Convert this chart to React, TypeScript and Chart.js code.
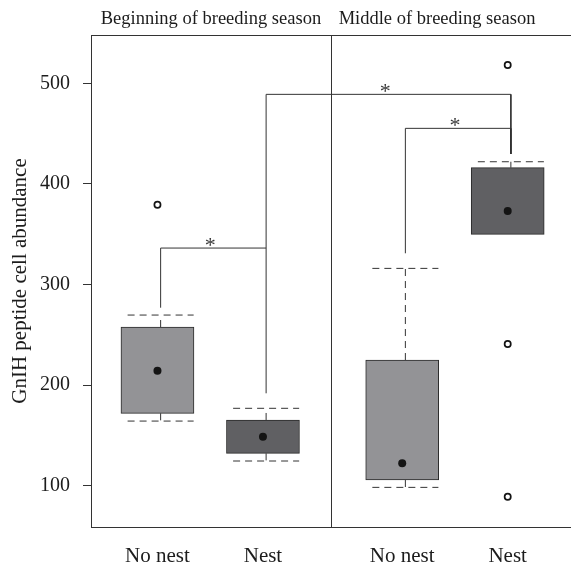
import React, { useEffect, useRef } from "react";
import { Chart, registerables } from "chart.js";

Chart.register(...registerables);

// ---- data ----
const panelTitles = ["Beginning of breeding season", "Middle of breeding season"];
const categories = ["No nest", "Nest", "No nest", "Nest"];
const boxAt = [1, 2, 3.32, 4.32];
const lowerWhisker = [164.2, 124.5, 98.3, 349.8];
const lowerQuartile = [171.9, 132.1, 105.6, 349.8];
const medians = [214.2, 148.6, 122.2, 373.0];
const upperQuartile = [257.7, 165.3, 224.9, 416.1];
const upperWhisker = [269.6, 176.9, 316.0, 422.0];
const outliers = [[379.3], [], [], [518.2, 240.8, 89.0]];
const yTicks = [100, 200, 300, 400, 500];
const bracketFrom = [0, 1, 2];
const bracketTo = [1, 3, 3];
const bracketTop = [336.2, 489.0, 455.2];
const bracketFromFoot = [276.9, 191.8, 331.0];
const bracketToFoot = [336.2, 429.7, 429.7];
const bracketMarks = ["*", "*", "*"];

// ---- layout / style ----
const FONT = '"Liberation Serif", "DejaVu Serif", serif';
const X_MIN = 0.37;
const X_MAX = 4.92;
const Y_MIN = 58.9;
const Y_MAX = 548;
const PANEL_BREAK = 2.645;
const PANEL_TITLE_AT = [1.507, 3.65];
const WHISKER_SHIFT = 0.03;
const CAP_HALF = 0.313;
const LINE = "#333333";
const TEXT = "#1c1c1c";
const boxFill = (i: number) => (i % 2 === 0 ? "#939396" : "#606063");

const gap = (x: number) => ({ x, y: null as any });

function buildWhiskers() {
  const pts: any[] = [];
  boxAt.forEach((c, i) => {
    const wx = c + WHISKER_SHIFT;
    if (upperWhisker[i] > upperQuartile[i])
      pts.push({ x: wx, y: upperQuartile[i] }, { x: wx, y: upperWhisker[i] }, gap(wx));
    if (lowerWhisker[i] < lowerQuartile[i])
      pts.push({ x: wx, y: lowerQuartile[i] }, { x: wx, y: lowerWhisker[i] }, gap(wx));
  });
  return pts;
}

function buildCaps() {
  const pts: any[] = [];
  boxAt.forEach((c, i) => {
    const wx = c + WHISKER_SHIFT;
    if (upperWhisker[i] > upperQuartile[i])
      pts.push({ x: wx - CAP_HALF, y: upperWhisker[i] }, { x: wx + CAP_HALF, y: upperWhisker[i] }, gap(wx));
    if (lowerWhisker[i] < lowerQuartile[i])
      pts.push({ x: wx - CAP_HALF, y: lowerWhisker[i] }, { x: wx + CAP_HALF, y: lowerWhisker[i] }, gap(wx));
  });
  return pts;
}

function buildBrackets() {
  const pts: any[] = [];
  bracketFrom.forEach((f, k) => {
    const xl = boxAt[f] + WHISKER_SHIFT;
    const xr = boxAt[bracketTo[k]] + WHISKER_SHIFT;
    pts.push(
      { x: xl, y: bracketFromFoot[k] },
      { x: xl, y: bracketTop[k] },
      { x: xr, y: bracketTop[k] },
      { x: xr, y: bracketToFoot[k] },
      gap(xr)
    );
  });
  return pts;
}

const frame = {
  id: "frame",
  beforeDatasetsDraw(chart: any) {
    const { ctx, chartArea: a, scales } = chart;
    const x = scales.x;
    ctx.save();
    ctx.strokeStyle = LINE;
    ctx.lineWidth = 1;
    ctx.beginPath();
    ctx.moveTo(a.left, Math.round(a.top) + 0.5);
    ctx.lineTo(chart.width, Math.round(a.top) + 0.5);
    ctx.moveTo(a.left, Math.round(a.bottom) + 0.5);
    ctx.lineTo(chart.width, Math.round(a.bottom) + 0.5);
    const dx = Math.round(x.getPixelForValue(PANEL_BREAK)) + 0.5;
    ctx.moveTo(dx, a.top);
    ctx.lineTo(dx, a.bottom);
    ctx.stroke();
    ctx.restore();
  },
  afterDatasetsDraw(chart: any) {
    const { ctx, chartArea: a, scales } = chart;
    const x = scales.x;
    const y = scales.y;
    ctx.save();
    ctx.fillStyle = "#3a3a3a";
    ctx.textAlign = "center";
    ctx.textBaseline = "alphabetic";
    ctx.font = `22px ${FONT}`;
    bracketFrom.forEach((f, k) => {
      const mx = x.getPixelForValue((boxAt[f] + boxAt[bracketTo[k]]) / 2);
      const my = y.getPixelForValue(bracketTop[k]);
      ctx.fillText(bracketMarks[k], mx, my + 4);
    });
    ctx.fillStyle = TEXT;
    ctx.font = `18.5px ${FONT}`;
    panelTitles.forEach((t, k) => {
      ctx.fillText(t, x.getPixelForValue(PANEL_TITLE_AT[k]), a.top - 11);
    });
    ctx.restore();
  },
};

export default function App() {
  const ref = useRef<HTMLCanvasElement | null>(null);

  useEffect(() => {
    document.body.style.margin = "0";
    if (!ref.current) return;
    const chart = new Chart(ref.current, {
      type: "bar",
      data: {
        datasets: [
          {
            type: "scatter",
            label: "median",
            data: boxAt.map((c, i) => ({ x: c, y: medians[i] })),
            pointRadius: 4,
            pointBackgroundColor: "#141414",
            pointBorderWidth: 0,
            order: 0,
          } as any,
          {
            type: "scatter",
            label: "outliers",
            data: boxAt.flatMap((c, i) => outliers[i].map((v) => ({ x: c, y: v }))),
            pointRadius: 3.1,
            pointBackgroundColor: "#ffffff",
            pointBorderColor: "#141414",
            pointBorderWidth: 1.7,
            order: 0,
          } as any,
          {
            type: "bar",
            label: "box",
            data: boxAt.map((c, i) => ({ x: c, y: [lowerQuartile[i], upperQuartile[i]] })),
            backgroundColor: boxAt.map((_, i) => boxFill(i)),
            borderColor: "#2a2a2a",
            borderWidth: 1,
            borderSkipped: false,
            barThickness: 73,
            grouped: false,
            order: 1,
          } as any,
          {
            type: "line",
            label: "whiskers",
            data: buildWhiskers(),
            borderColor: LINE,
            borderWidth: 1,
            borderDash: [7, 5],
            pointRadius: 0,
            spanGaps: false,
            tension: 0,
            order: 2,
          } as any,
          {
            type: "line",
            label: "caps",
            data: buildCaps(),
            borderColor: LINE,
            borderWidth: 1,
            borderDash: [7, 5],
            pointRadius: 0,
            spanGaps: false,
            tension: 0,
            order: 2,
          } as any,
          {
            type: "line",
            label: "brackets",
            data: buildBrackets(),
            borderColor: LINE,
            borderWidth: 1,
            pointRadius: 0,
            spanGaps: false,
            tension: 0,
            order: 3,
          } as any,
        ],
      },
      options: {
        responsive: false,
        animation: false,
        events: [],
        layout: { autoPadding: false, padding: { top: 35, left: 0, right: 0, bottom: 0 } },
        plugins: {
          legend: { display: false },
          tooltip: { enabled: false },
          title: { display: false },
        },
        scales: {
          x: {
            type: "linear",
            min: X_MIN,
            max: X_MAX,
            offset: false,
            afterBuildTicks: (s: any) => {
              s.ticks = boxAt.map((v) => ({ value: v }));
            },
            afterFit: (s: any) => {
              s.height = 37;
              s.paddingLeft = 0;
              s.paddingRight = 0;
            },
            grid: { display: false, drawTicks: false },
            border: { display: false },
            ticks: {
              font: { family: FONT, size: 21 },
              color: TEXT,
              padding: 17,
              autoSkip: false,
              maxRotation: 0,
              callback: (_v: any, i: number) => categories[i],
            },
          },
          y: {
            type: "linear",
            min: Y_MIN,
            max: Y_MAX,
            afterBuildTicks: (s: any) => {
              s.ticks = yTicks.map((v) => ({ value: v }));
            },
            afterFit: (s: any) => {
              s.width = 91;
            },
            grid: { drawOnChartArea: false, drawTicks: true, tickLength: 8, color: LINE, lineWidth: 1 },
            border: { display: true, color: LINE, width: 1 },
            ticks: {
              font: { family: FONT, size: 20 },
              color: TEXT,
              padding: 13,
            },
            title: {
              display: true,
              text: "GnIH peptide cell abundance",
              font: { family: FONT, size: 21 },
              color: TEXT,
              padding: { top: 8, bottom: 0 },
            },
          },
        },
      } as any,
      plugins: [frame],
    });
    return () => chart.destroy();
  }, []);

  return <canvas ref={ref} width={571} height={564} style={{ display: "block" }} />;
}
